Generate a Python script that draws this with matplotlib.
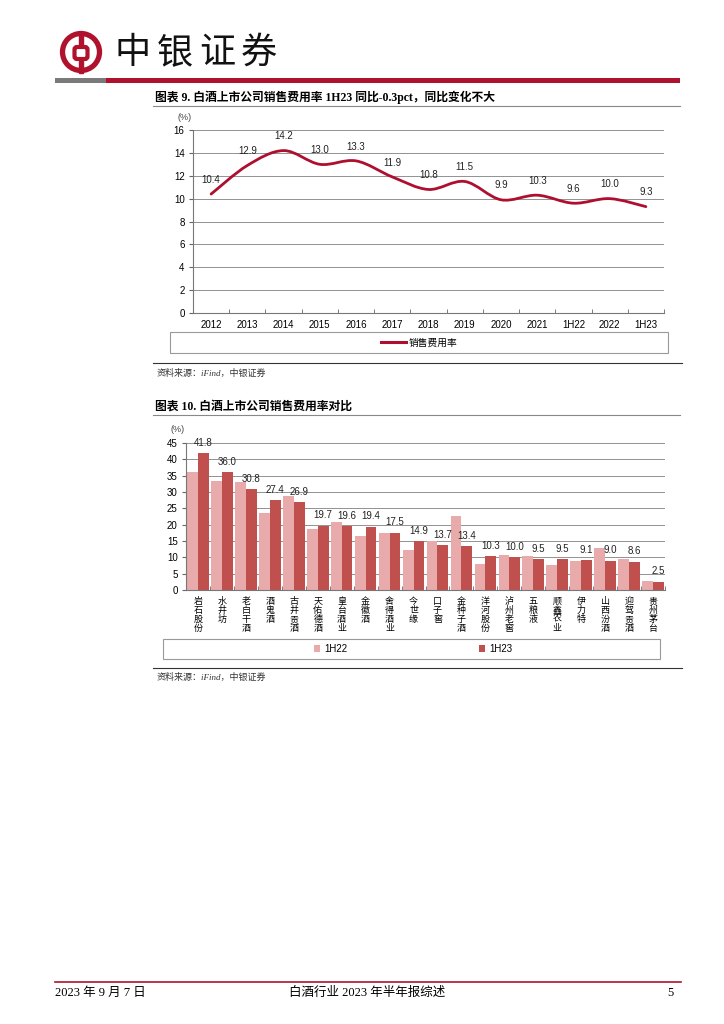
import numpy as np
import matplotlib
matplotlib.use('Agg')
import matplotlib.pyplot as plt
from matplotlib.path import Path
from matplotlib.patches import PathPatch, Rectangle, Circle, FancyBboxPatch
from matplotlib.lines import Line2D

plt.rcParams['font.family'] = ['Liberation Sans', 'Noto Sans CJK SC']

# 图表 9 数据
years = ['2012', '2013', '2014', '2015', '2016', '2017', '2018', '2019',
         '2020', '2021', '1H22', '2022', '1H23']
sales_ratio = [10.4, 12.9, 14.2, 13.0, 13.3, 11.9, 10.8, 11.5, 9.9, 10.3, 9.6, 10.0, 9.3]

# 图表 10 数据
companies = ['岩石股份', '水井坊', '老白干酒', '酒鬼酒', '古井贡酒', '天佑德酒', '皇台酒业',
             '金徽酒', '舍得酒业', '今世缘', '口子窖', '金种子酒', '洋河股份', '泸州老窖',
             '五粮液', '顺鑫农业', '伊力特', '山西汾酒', '迎驾贡酒', '贵州茅台']
ratio_1h22 = [36.0, 33.5, 33.2, 23.7, 28.8, 18.8, 20.9, 16.4, 17.6, 12.3,
              15.1, 22.8, 8.0, 10.6, 10.4, 7.6, 8.8, 12.9, 9.6, 2.8]
ratio_1h23 = [41.8, 36.0, 30.8, 27.4, 26.9, 19.7, 19.6, 19.4, 17.5, 14.9,
              13.7, 13.4, 10.3, 10.0, 9.5, 9.5, 9.1, 9.0, 8.6, 2.5]

RED = '#B0122E'
LINE_RED = '#AE0F2F'
LIGHT = '#E8AAAA'
DARK = '#C0504D'
SERIF = ['Liberation Serif', 'Noto Sans CJK SC']

W, H = 724, 1024
fig = plt.figure(figsize=(W / 100, H / 100), dpi=100)


def px_axes(x0, y0, x1, y1):
    return fig.add_axes([x0 / W, 1 - y1 / H, (x1 - x0) / W, (y1 - y0) / H])


# 页面装饰层（像素坐标）
page = px_axes(0, 0, W, H)
page.set_xlim(0, W)
page.set_ylim(H, 0)
page.axis('off')

# logo
page.add_patch(Circle((81, 52), 18.5, fill=False, ec=RED, lw=3.8))
page.add_patch(FancyBboxPatch((74.5, 47), 13, 12, boxstyle='round,pad=0,rounding_size=2.5',
                              fill=False, ec=RED, lw=3.0))
page.add_patch(Rectangle((79.3, 33), 3.4, 12.5, color=RED))
page.add_patch(Rectangle((79.3, 60.5), 3.4, 12.5, color=RED))
for i, ch in enumerate('中银证券'):
    page.text(133 + 42 * i, 53, ch, fontsize=26, ha='center', va='center',
              color='#111111', family='Noto Sans CJK SC', weight='medium')
page.add_patch(Rectangle((55, 77.5), 51, 5, color='#7A7A7A', lw=0))
page.add_patch(Rectangle((106, 77.5), 574, 5, color=RED, lw=0))

# 标题与来源
page.text(155, 97, '图表 9. 白酒上市公司销售费用率 1H23 同比-0.3pct，同比变化不大',
          fontsize=8.5, weight='bold', ha='left', va='center', family=SERIF)
page.plot([153, 680], [106, 106], color='#888888', lw=0.8)
page.plot([153, 682], [363, 363], color='#333333', lw=0.8)
page.text(157, 373, '资料来源：iFind，中银证券', fontsize=6.5, color='#333333',
          ha='left', va='center', family=SERIF, style='italic')

page.text(155, 407, '图表 10. 白酒上市公司销售费用率对比',
          fontsize=8.5, weight='bold', ha='left', va='center', family=SERIF)
page.plot([153, 680], [415, 415], color='#888888', lw=0.8)
page.plot([153, 682], [668, 668], color='#333333', lw=0.8)
page.text(157, 677, '资料来源：iFind，中银证券', fontsize=6.5, color='#333333',
          ha='left', va='center', family=SERIF, style='italic')

# 页脚
page.plot([55, 681], [982, 982], color=RED, lw=1.2)
page.text(55, 993, '2023 年 9 月 7 日', fontsize=9, ha='left', va='center', family=SERIF)
page.text(367, 993, '白酒行业 2023 年半年报综述', fontsize=9, ha='center', va='center', family=SERIF)
page.text(674, 993, '5', fontsize=9, ha='right', va='center', family=SERIF)

# 图例框
page.add_patch(Rectangle((170, 332), 498, 21, fill=False, ec='#999999', lw=0.8))
page.add_patch(Rectangle((163, 639), 497, 20, fill=False, ec='#999999', lw=0.8))
page.text(185, 118, '(%)', fontsize=6.5, color='#444444', ha='center', va='center')
page.text(178, 429, '(%)', fontsize=6.5, color='#444444', ha='center', va='center')

# ---------- 图表 9 ----------
ax1 = px_axes(193, 130, 664, 313)
xs = np.arange(len(years))
pts = np.column_stack([xs, sales_ratio]).astype(float)
ext = np.vstack([pts[0], pts, pts[-1]])
verts = [tuple(pts[0])]
codes = [Path.MOVETO]
for i in range(len(pts) - 1):
    p0, p1, p2, p3 = ext[i], ext[i + 1], ext[i + 2], ext[i + 3]
    c1 = p1 + (p2 - p0) / 6
    c2 = p2 - (p3 - p1) / 6
    verts += [tuple(c1), tuple(c2), tuple(p2)]
    codes += [Path.CURVE4] * 3
ax1.add_patch(PathPatch(Path(verts, codes), fill=False, ec=LINE_RED, lw=2.0,
                        capstyle='round', zorder=3))
for i, v in enumerate(sales_ratio):
    ax1.text(i, v + 1.25, f'{v:.1f}', ha='center', va='center', fontsize=7, color='#222222')

ax1.set_xlim(-0.5, len(years) - 0.5)
ax1.set_ylim(0, 16)
ax1.set_yticks(np.arange(0, 17, 2))
ax1.set_xticks(xs)
ax1.set_xticklabels(years)
ax1.set_xticks(np.arange(-0.5, len(years), 1), minor=True)
ax1.tick_params(axis='x', which='major', length=0, pad=5, labelsize=7)
ax1.tick_params(axis='x', which='minor', direction='in', length=3, color='#666666')
ax1.tick_params(axis='y', length=3, color='#666666', labelsize=7, pad=3)
ax1.yaxis.grid(True, color='#808080', lw=0.6)
ax1.set_axisbelow(True)
for s in ['top', 'right']:
    ax1.spines[s].set_visible(False)
for s in ['left', 'bottom']:
    ax1.spines[s].set_color('#777777')
    ax1.spines[s].set_linewidth(0.8)
ax1.patch.set_alpha(0)
ax1.legend([Line2D([0], [0], color=LINE_RED, lw=2.2)], ['销售费用率'], loc='center',
           bbox_to_anchor=(419 / W, 1 - 342.5 / H), bbox_transform=fig.transFigure,
           frameon=False, fontsize=7, handlelength=2.6, handletextpad=0.3)

# ---------- 图表 10 ----------
ax2 = px_axes(186, 443, 665, 590)
xb = np.arange(len(companies))
bw = 0.45
ax2.bar(xb - bw / 2, ratio_1h22, bw, color=LIGHT, label='1H22', zorder=2)
ax2.bar(xb + bw / 2, ratio_1h23, bw, color=DARK, label='1H23', zorder=2)
for i, v in enumerate(ratio_1h23):
    ax2.text(i + bw / 2, v + 3.2, f'{v:.1f}', ha='center', va='center', fontsize=7, color='#222222')

ax2.set_xlim(-0.5, len(companies) - 0.5)
ax2.set_ylim(0, 45)
ax2.set_yticks(np.arange(0, 46, 5))
ax2.set_xticks(xb)
ax2.set_xticklabels(['\n'.join(c) for c in companies], va='top', linespacing=1.0)
ax2.set_xticks(np.arange(-0.5, len(companies), 1), minor=True)
ax2.tick_params(axis='x', which='major', length=0, pad=5, labelsize=6.5)
ax2.tick_params(axis='x', which='minor', direction='in', length=3, color='#666666')
ax2.tick_params(axis='y', length=3, color='#666666', labelsize=7, pad=3)
ax2.yaxis.grid(True, color='#808080', lw=0.6)
ax2.set_axisbelow(True)
for s in ['top', 'right']:
    ax2.spines[s].set_visible(False)
for s in ['left', 'bottom']:
    ax2.spines[s].set_color('#777777')
    ax2.spines[s].set_linewidth(0.8)
ax2.patch.set_alpha(0)
ax2.legend(loc='center', ncol=2, bbox_to_anchor=(413 / W, 1 - 649 / H),
           bbox_transform=fig.transFigure, frameon=False, fontsize=7,
           handlelength=0.7, handleheight=0.7, handletextpad=0.4, columnspacing=13.5)

fig.savefig('out.png', dpi=100)
